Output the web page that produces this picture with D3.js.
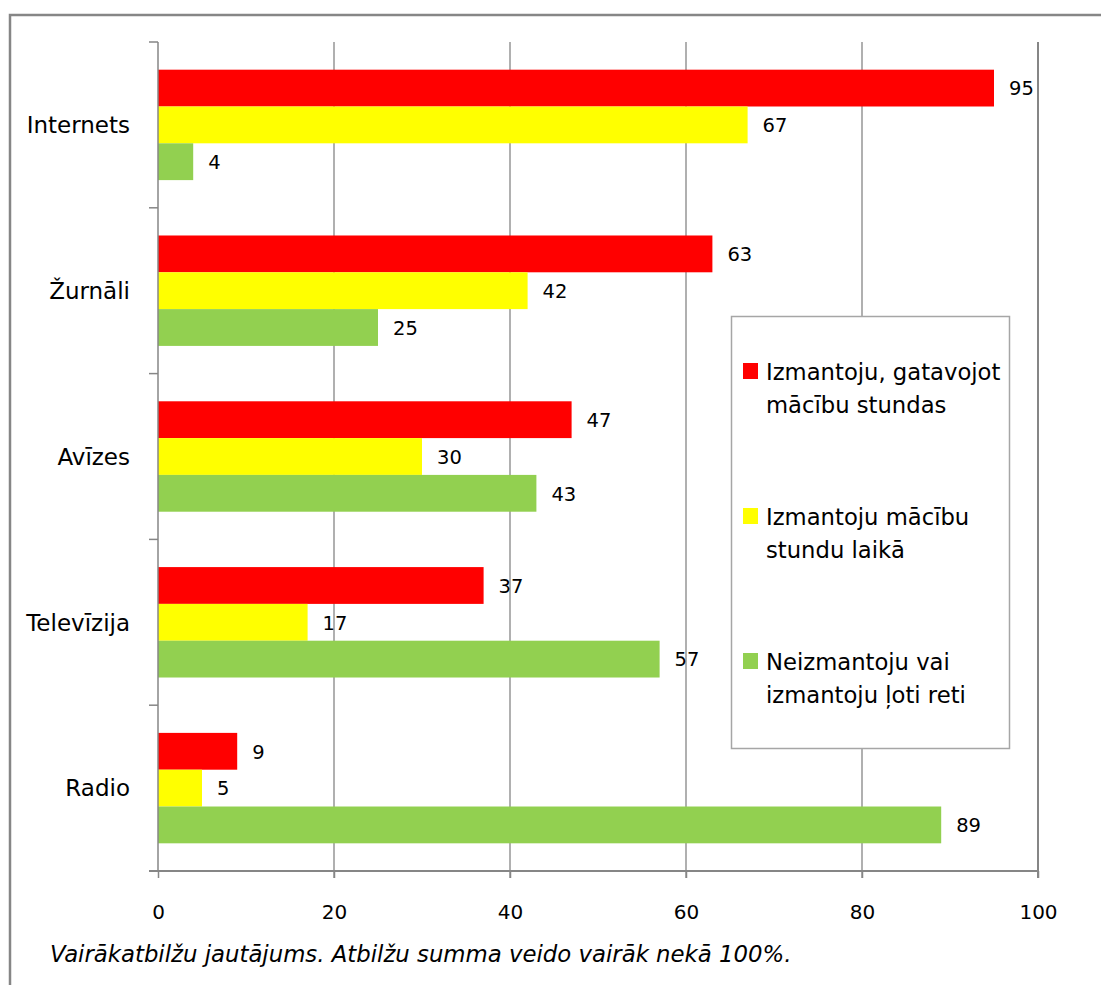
<!DOCTYPE html>
<html lang="lv">
<head>
<meta charset="UTF-8">
<title>Mediju izmantošana</title>
<script src="https://d3js.org/d3.v7.min.js"></script>
<style>
body { margin: 0; background: #fff; }
svg text { font-family: "DejaVu Sans", sans-serif; fill: #000; }
.grid line { stroke: #868686; }
</style>
</head>
<body>
<div id="chart"></div>
<script>
// dati
var categories = ["Internets", "Žurnāli", "Avīzes", "Televīzija", "Radio"];
var seriesNames = [
    ["Izmantoju, gatavojot", "mācību stundas"],
    ["Izmantoju mācību", "stundu laikā"],
    ["Neizmantoju vai", "izmantoju ļoti reti"]
];
var prepValues  = [95, 63, 47, 37, 9];
var lessonValues = [67, 42, 30, 17, 5];
var rareValues  = [4, 25, 43, 57, 89];
var xTicks = [0, 20, 40, 60, 80, 100];
var footnote = "Vairākatbilžu jautājums. Atbilžu summa veido vairāk nekā 100%.";

var colors = ["#ff0000", "#ffff00", "#92d050"];
var series = [prepValues, lessonValues, rareValues];

var width = 1101, height = 985;
var svg = d3.select("#chart").append("svg")
    .attr("width", width)
    .attr("height", height);

// ramis
svg.append("rect")
    .attr("x", 10).attr("y", 15)
    .attr("width", 1100).attr("height", 1000)
    .attr("fill", "none")
    .attr("stroke", "#868686")
    .attr("stroke-width", 2.5);

var plot = {left: 158, right: 1038, top: 42, bottom: 871};

var xScale = d3.scaleLinear()
    .domain([0, 100])
    .range([plot.left, plot.right]);

var yScale = d3.scaleBand()
    .domain(categories)
    .range([plot.top, plot.bottom]);

var gap = yScale.bandwidth() * 0.167;
var inner = d3.scaleBand()
    .domain(d3.range(series.length))
    .range([gap, yScale.bandwidth() - gap]);

// rezgis
svg.append("g").attr("class", "grid")
    .selectAll("line")
    .data(xTicks.slice(1))
    .enter().append("line")
    .attr("x1", function(d){ return xScale(d); })
    .attr("x2", function(d){ return xScale(d); })
    .attr("y1", plot.top)
    .attr("y2", plot.bottom + 7)
    .attr("stroke-width", function(d){ return d === 100 ? 2 : 1.3; });

// stabini
var rows = [];
categories.forEach(function(c, i){
    series.forEach(function(s, j){
        rows.push({cat: c, s: j, v: s[i]});
    });
});

svg.append("g").selectAll("rect")
    .data(rows)
    .enter().append("rect")
    .attr("x", xScale(0))
    .attr("y", function(d){ return yScale(d.cat) + inner(d.s); })
    .attr("width", function(d){ return xScale(d.v) - xScale(0); })
    .attr("height", inner.bandwidth())
    .attr("fill", function(d){ return colors[d.s]; });

svg.append("g").selectAll("text")
    .data(rows)
    .enter().append("text")
    .attr("x", function(d){ return xScale(d.v) + 15; })
    .attr("y", function(d){ return yScale(d.cat) + inner(d.s) + inner.bandwidth() / 2; })
    .attr("dy", "0.37em")
    .style("font-size", "19.5px")
    .text(function(d){ return d.v; });

// x ass
var xAxis = d3.axisBottom(xScale)
    .tickValues(xTicks)
    .tickSize(7)
    .tickPadding(27);
var gx = svg.append("g")
    .attr("transform", "translate(0," + plot.bottom + ")")
    .call(xAxis);
gx.select(".domain").attr("stroke", "#868686").attr("stroke-width", 2)
    .attr("d", "M" + (plot.left - 9) + ",0H" + plot.right);
gx.selectAll(".tick line").attr("stroke", "#868686").attr("stroke-width", 1.5);
gx.selectAll(".tick text").style("font-size", "20px").attr("font-family", null);

// y ass
var bounds = categories.map(function(c){ return yScale(c); }).concat([plot.bottom]);
var gy = svg.append("g");
gy.append("line")
    .attr("x1", plot.left).attr("x2", plot.left)
    .attr("y1", plot.top).attr("y2", plot.bottom)
    .attr("stroke", "#868686").attr("stroke-width", 1.5);
gy.selectAll("line.tick")
    .data(bounds)
    .enter().append("line")
    .attr("class", "tick")
    .attr("x1", plot.left - 9).attr("x2", plot.left)
    .attr("y1", function(d){ return d; }).attr("y2", function(d){ return d; })
    .attr("stroke", "#868686").attr("stroke-width", 1.5);
gy.selectAll("text")
    .data(categories)
    .enter().append("text")
    .attr("x", 130)
    .attr("y", function(d){ return yScale(d) + yScale.bandwidth() / 2; })
    .attr("dy", "0.36em")
    .attr("text-anchor", "end")
    .style("font-size", "23px")
    .text(function(d){ return d; });

// legenda
var legend = svg.append("g");
legend.append("rect")
    .attr("x", 731.5).attr("y", 316.5)
    .attr("width", 278).attr("height", 432)
    .attr("fill", "#fff")
    .attr("stroke", "#a6a6a6")
    .attr("stroke-width", 1.5);
var item = legend.selectAll("g.item")
    .data(seriesNames)
    .enter().append("g")
    .attr("class", "item")
    .attr("transform", function(d, i){ return "translate(743," + (363 + i * 145) + ")"; });
item.append("rect")
    .attr("width", 15).attr("height", 16)
    .attr("fill", function(d, i){ return colors[i]; });
item.selectAll("text")
    .data(function(d){ return d; })
    .enter().append("text")
    .attr("x", 23)
    .attr("y", function(d, k){ return 17 + k * 33; })
    .style("font-size", "22.7px")
    .text(function(d){ return d; });

// piezime
svg.append("text")
    .attr("x", 50).attr("y", 962)
    .style("font-size", "22.8px")
    .style("font-style", "italic")
    .text(footnote);
</script>
</body>
</html>
